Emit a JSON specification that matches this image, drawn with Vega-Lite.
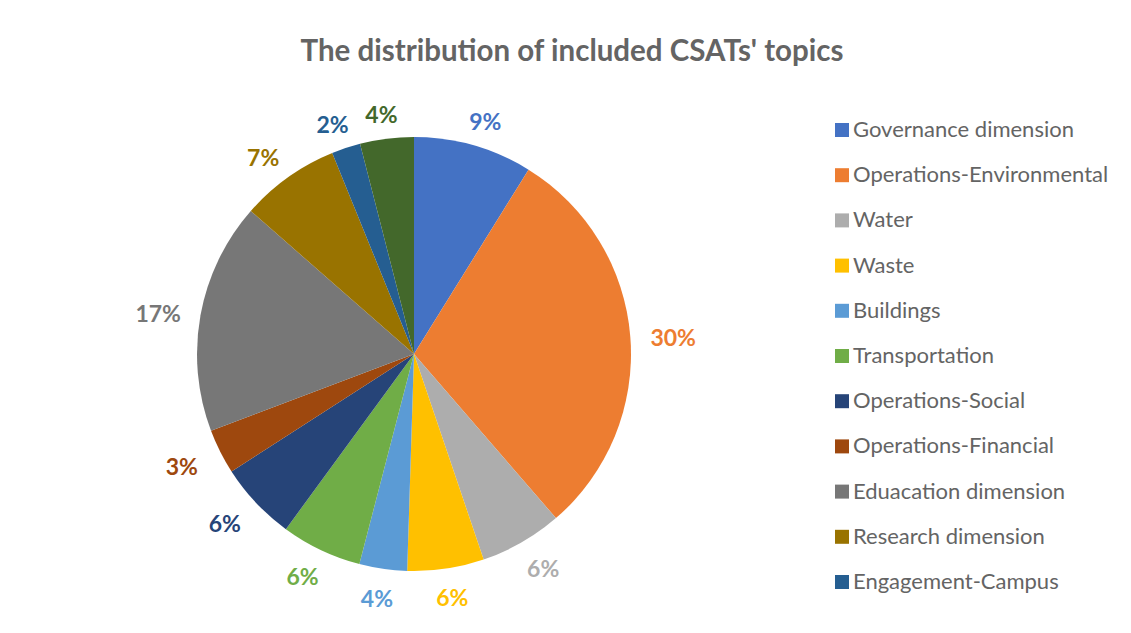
{
  "$schema": "https://vega.github.io/schema/vega-lite/v6.json",
  "autosize": {"type": "none"},
  "width": 828,
  "height": 558,
  "padding": {"left": 0, "top": 75, "right": 303, "bottom": 0},
  "background": "white",
  "config": {"view": {"stroke": null}, "font": "Lato"},
  "title": {
    "text": "The distribution of included CSATs' topics",
    "font": "Lato",
    "fontSize": 29.5,
    "fontWeight": "bold",
    "color": "#646464",
    "anchor": "middle",
    "dx": 158,
    "offset": 8
  },
  "data": {
    "values": [
      {"idx": 1, "topic": "Governance dimension", "share": 0.0885},
      {"idx": 2, "topic": "Operations-Environmental", "share": 0.298},
      {"idx": 3, "topic": "Water", "share": 0.0615},
      {"idx": 4, "topic": "Waste", "share": 0.057},
      {"idx": 5, "topic": "Buildings", "share": 0.0355},
      {"idx": 6, "topic": "Transportation", "share": 0.06},
      {"idx": 7, "topic": "Operations-Social", "share": 0.0585},
      {"idx": 8, "topic": "Operations-Financial", "share": 0.0335},
      {"idx": 9, "topic": "Eduacation dimension", "share": 0.172},
      {"idx": 10, "topic": "Research dimension", "share": 0.074},
      {"idx": 11, "topic": "Engagement-Campus", "share": 0.0215},
      {"idx": 12, "topic": "Engagement-Community", "share": 0.04}
    ]
  },
  "encoding": {
    "theta": {"field": "share", "type": "quantitative", "stack": true},
    "order": {"field": "idx", "type": "quantitative"},
    "color": {
      "field": "topic",
      "type": "nominal",
      "sort": null,
      "scale": {
        "domain": ["Governance dimension", "Operations-Environmental", "Water", "Waste", "Buildings", "Transportation", "Operations-Social", "Operations-Financial", "Eduacation dimension", "Research dimension", "Engagement-Campus", "Engagement-Community"],
        "range": ["#4472C4", "#ED7D31", "#ADADAD", "#FFC000", "#5B9BD5", "#70AD47", "#264478", "#9E480E", "#777777", "#997300", "#255E91", "#43682B"]
      },
      "legend": {
        "orient": "none",
        "legendX": 831,
        "legendY": 44,
        "title": null,
        "values": ["Governance dimension", "Operations-Environmental", "Water", "Waste", "Buildings", "Transportation", "Operations-Social", "Operations-Financial", "Eduacation dimension", "Research dimension", "Engagement-Campus"],
        "symbolType": "square",
        "symbolSize": 196,
        "symbolStrokeWidth": 0,
        "labelFont": "Lato",
        "labelFontSize": 22,
        "labelColor": "#646464",
        "labelLimit": 400,
        "rowPadding": 23.2,
        "labelOffset": 0
      }
    }
  },
  "layer": [
    {"mark": {"type": "arc", "outerRadius": 217}},
    {
      "mark": {
        "type": "text",
        "radius": 244,
        "font": "Lato",
        "fontSize": 23,
        "fontWeight": "bold",
        "align": "center",
        "baseline": "middle",
        "dx": {"expr": "16 * sin(PI * (datum.share_start + datum.share_end))"},
        "dy": 4
      },
      "encoding": {"text": {"field": "share", "type": "quantitative", "format": ".0%"}}
    }
  ]
}
